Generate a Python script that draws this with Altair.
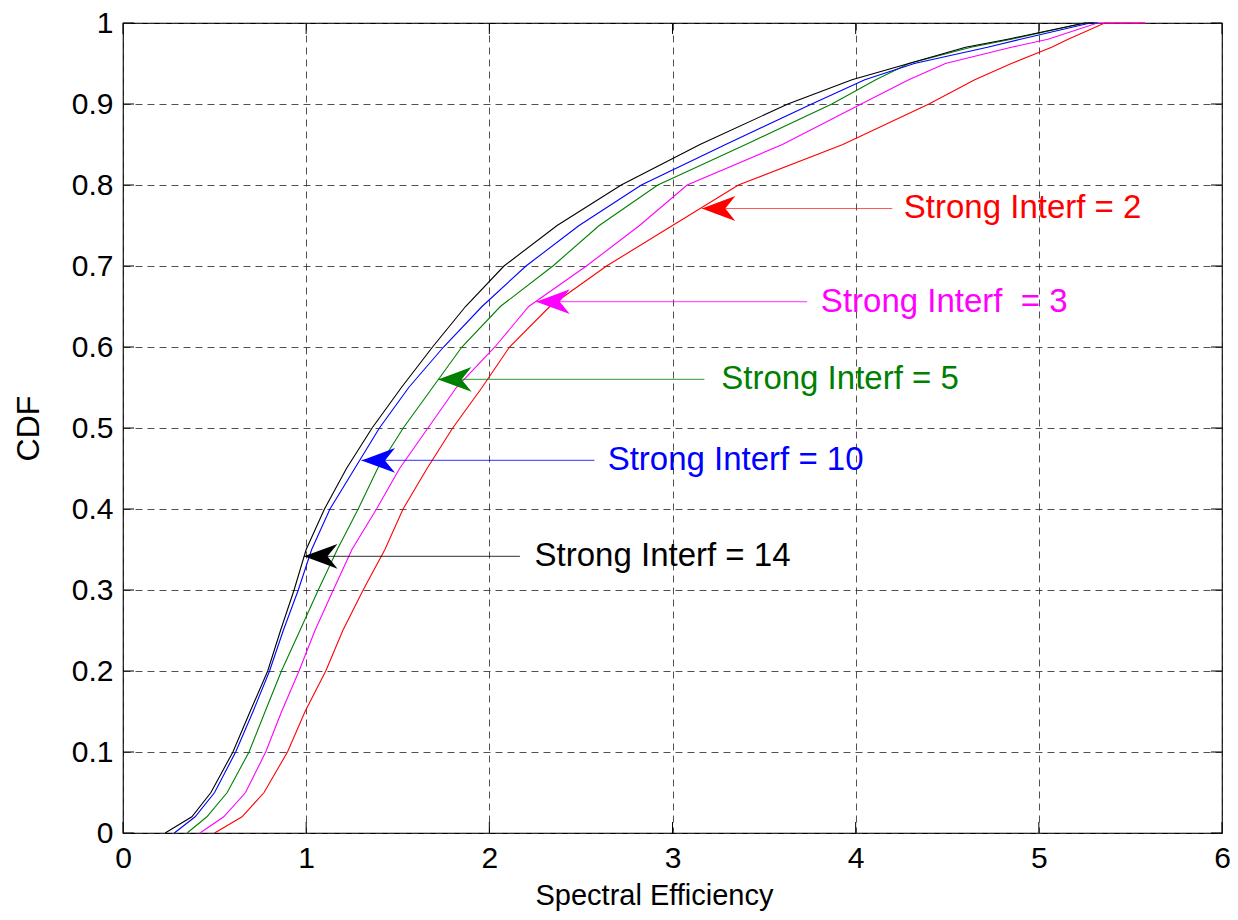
import altair as alt
import pandas as pd

# ---------------- data ----------------
cdf_levels = [0, 0.02, 0.05, 0.1, 0.15, 0.2, 0.25, 0.3, 0.35, 0.4, 0.45, 0.5,
              0.55, 0.6, 0.65, 0.7, 0.75, 0.8, 0.85, 0.9, 0.93, 0.95, 0.97, 0.98, 1.0]

se_interf_14 = [0.23, 0.376, 0.48, 0.60, 0.694, 0.79, 0.86, 0.934, 1.00, 1.10, 1.22, 1.36,
                1.52, 1.69, 1.87, 2.08, 2.37, 2.72, 3.15, 3.63, 3.98, 4.29, 4.60, 4.83, 5.25]
se_interf_10 = [0.28, 0.394, 0.50, 0.615, 0.71, 0.80, 0.875, 0.957, 1.03, 1.13, 1.265, 1.40,
                1.56, 1.75, 1.96, 2.20, 2.49, 2.83, 3.29, 3.76, 4.05, 4.32, 4.72, 4.90, 5.28]
se_interf_5 = [0.35, 0.458, 0.569, 0.688, 0.776, 0.865, 0.966, 1.066, 1.17, 1.284, 1.39, 1.53,
               1.69, 1.85, 2.06, 2.347, 2.60, 2.92, 3.40, 3.87, 4.11, 4.29, 4.63, 4.85, 5.25]
se_interf_3 = [0.42, 0.55, 0.669, 0.779, 0.866, 0.961, 1.048, 1.148, 1.25, 1.384, 1.51, 1.665,
               1.82, 2.03, 2.215, 2.53, 2.82, 3.08, 3.60, 4.03, 4.29, 4.49, 4.85, 5.05, 5.32]
se_interf_2 = [0.50, 0.65, 0.77, 0.898, 0.994, 1.107, 1.20, 1.311, 1.43, 1.529, 1.66, 1.80,
               1.96, 2.11, 2.33, 2.64, 3.00, 3.36, 3.93, 4.40, 4.65, 4.85, 5.07, 5.16, 5.36]

series_keys = ["2", "3", "5", "10", "14"]
series_values = [se_interf_2, se_interf_3, se_interf_5, se_interf_10, se_interf_14]
series_end_x = [5.58, 5.58, 5.32, 5.32, 5.30]
series_colors = ["#ff0000", "#ff00ff", "#008000", "#0000ff", "#000000"]

# annotations: arrow tip, arrow tail, text start, height, label
ann_keys = ["2", "3", "5", "10", "14"]
ann_labels = ["Strong Interf = 2", "Strong Interf \u00a0= 3", "Strong Interf = 5",
              "Strong Interf = 10", "Strong Interf = 14"]
ann_tip_x = [3.16, 2.256, 1.72, 1.302, 0.988]
ann_tail_x = [4.20, 3.735, 3.174, 2.574, 2.167]
ann_text_x = [4.263, 3.81, 3.266, 2.646, 2.247]
ann_y = [0.771, 0.656, 0.560, 0.460, 0.3416]

x_ticks = [0, 1, 2, 3, 4, 5, 6]
y_ticks = [0, 0.1, 0.2, 0.3, 0.4, 0.5, 0.6, 0.7, 0.8, 0.9, 1.0]

# ---------------- tables ----------------
rows = []
for key, vals, endx in zip(series_keys, series_values, series_end_x):
    i = 0
    for c, v in zip(cdf_levels, vals):
        rows.append({"x": v, "y": c, "key": key, "idx": i})
        i += 1
    rows.append({"x": endx, "y": 1.0, "key": key, "idx": i})
lines_df = pd.DataFrame(rows)

ann_df = pd.DataFrame({"key": ann_keys, "label": ann_labels, "x": ann_tip_x,
                       "x2": ann_tail_x, "tx": ann_text_x, "y": ann_y})
xt_df = pd.DataFrame({"x": x_ticks})
yt_df = pd.DataFrame({"y": y_ticks})

W, H = 1099, 810
FONT = "Liberation Sans"

xs = alt.Scale(domain=[0, 6], nice=False, zero=False)
ys = alt.Scale(domain=[0, 1], nice=False, zero=False)
cs = alt.Scale(domain=series_keys, range=series_colors)

x_axis = alt.Axis(values=x_ticks, format="d", title="Spectral Efficiency",
                  grid=True, gridDash=[7, 5], gridColor="#333333", gridOpacity=0.85,
                  tickSize=0, domain=False, labelPadding=10, titlePadding=8,
                  titleX=531, titleAnchor="middle",
                  labelFontSize=30, titleFontSize=29, labelFont=FONT, titleFont=FONT,
                  labelColor="black", titleColor="black", titleFontWeight="normal",
                  labelFlush=False)
y_axis = alt.Axis(values=y_ticks, format="~r", title="CDF",
                  grid=True, gridDash=[7, 5], gridColor="#333333", gridOpacity=0.85,
                  tickSize=0, domain=False, labelPadding=10, titlePadding=26,
                  labelFontSize=30, titleFontSize=32, labelFont=FONT, titleFont=FONT,
                  labelColor="black", titleColor="black", titleFontWeight="normal",
                  labelFlush=False)


def X(field, axis=x_axis):
    return alt.X(field, type="quantitative", scale=xs, axis=axis)


def Y(field, axis=y_axis):
    return alt.Y(field, type="quantitative", scale=ys, axis=axis)


lines = alt.Chart(lines_df).mark_line(strokeWidth=1.1, interpolate="linear").encode(
    x=X("x"), y=Y("y"),
    color=alt.Color("key:N", scale=cs, legend=None),
    order=alt.Order("idx:Q"),
)

arrow_lines = alt.Chart(ann_df).mark_rule(strokeWidth=1.2, opacity=0.65).encode(
    x=X("x"), x2=alt.X2("x2"), y=Y("y"),
    color=alt.Color("key:N", scale=cs, legend=None),
)

arrow_shape = "M 0 0 L 1 -0.37 L 0.7 0 L 1 0.37 Z"
arrow_heads = alt.Chart(ann_df).mark_point(
    shape=arrow_shape, filled=True, size=4500, opacity=1, strokeWidth=0
).encode(
    x=X("x"), y=Y("y"),
    color=alt.Color("key:N", scale=cs, legend=None),
)

labels = alt.Chart(ann_df).mark_text(
    align="left", baseline="middle", fontSize=33, font=FONT
).encode(
    x=X("tx"), y=Y("y"), text="label:N",
    color=alt.Color("key:N", scale=cs, legend=None),
)

TL = 11
tick_bottom = alt.Chart(xt_df).mark_rule(color="black", strokeWidth=1).encode(
    x=X("x"), y=alt.value(H), y2=alt.value(H - TL))
tick_top = alt.Chart(xt_df).mark_rule(color="black", strokeWidth=1).encode(
    x=X("x"), y=alt.value(0), y2=alt.value(TL))
tick_left = alt.Chart(yt_df).mark_rule(color="black", strokeWidth=1).encode(
    y=Y("y"), x=alt.value(0), x2=alt.value(TL))
tick_right = alt.Chart(yt_df).mark_rule(color="black", strokeWidth=1).encode(
    y=Y("y"), x=alt.value(W), x2=alt.value(W - TL))

chart = alt.layer(
    tick_bottom, tick_top, tick_left, tick_right,
    lines, arrow_lines, arrow_heads, labels,
).properties(
    width=W, height=H,
    autosize=alt.AutoSizeParams(type="none"),
    padding={"left": 115, "top": 15, "right": 8, "bottom": 79},
    background="white",
).configure_view(
    stroke="black", strokeWidth=1.2,
)

chart.save("out.html", embed_options={"renderer": "svg", "actions": False})
